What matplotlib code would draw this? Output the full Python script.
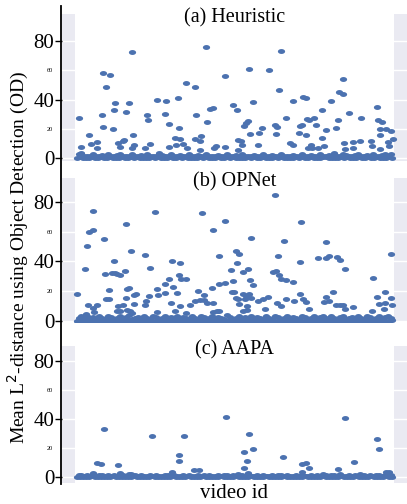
import numpy as np
import matplotlib
matplotlib.use("Agg")
import matplotlib.pyplot as plt
from matplotlib.path import Path
from matplotlib.lines import Line2D

plt.rcParams['font.family'] = ['Liberation Serif', 'DejaVu Serif']

BLUE = "#4C72B0"
titles = ["(a) Heuristic", "(b) OPNet", "(c) AAPA"]
ylabel = "Mean L$^2$-distance using Object Detection (OD)"
xlabel = "video id"
major_ticks = [0, 40, 80]
minor_ticks = [20, 60]

# ---------------- data: (video id, distance) ----------------
heur_x = [2.3, 3.7, 12, 14, 20.3, 19.7, 25.3, 25.7, 26.3, 28.7, 32.7, 36.7, 38.3, 36.3, 41.3, 43, 45.7, 47,
          48.7, 52.3, 54.7, 56.3, 57, 54.7, 70.3, 71, 73.3, 68, 79.7, 88.3, 89, 92, 92, 98, 98.7, 102, 101.3,
          103, 105.7, 108.7, 110.3, 118, 119.3, 117.7, 123, 124.3, 123, 129, 129.7, 132.7, 135.7, 138.7, 137,
          148.3, 148.3, 155.7, 160.3, 160.7, 163.7, 165, 161.3, 167.3, 168.7, 170.7, 172, 173, 176.3, 180.7,
          182.3, 185.3, 191.7, 197.7, 200.3, 198.7, 201.7, 203.7, 209.3, 213, 216.3, 216.3, 221.7, 223, 225.3,
          226, 229.3, 229, 230, 232.3, 233.7, 231.3, 235.3, 237.3, 239.3, 240.7, 245, 245.3, 247.3, 249.3, 254,
          258.7, 261, 261.7, 265.7, 265.7, 266.7, 268, 272, 276, 276.3, 283, 283.7, 293.7, 295.3, 300.3, 301.3,
          303, 302.7, 305, 308.7, 302.7, 314, 311.3, 312.3, 316.3]
heur_y = [27.6, 7.5, 15.7, 9.8, 11.2, 6.6, 29.2, 21.2, 58.3, 48.5, 56.5, 33, 37.8, 19.6, 10, 7.7, 11.8, 12.2,
          31.7, 37.6, 72.7, 15.7, 9.1, 6.6, 29.2, 25.8, 9.8, 6.6, 39.7, 30.3, 39, 23.5, 7.7, 13.5, 8.7, 20.5, 41,
          13.2, 9.4, 51, 6.6, 48.5, 29.6, 12.8, 11.4, 15, 5.7, 76.1, 24.4, 33.5, 34.2, 8.2, 6.6,
          56.3, 7.7, 36, 32.8, 12.5, 11.8, 8.7, 5.7, 22.1, 24.2, 25.6, 60.6, 16.4, 38.3, 9.1,
          16.9, 20.7, 60.4, 22.6, 21.2, 16.4, 46.7, 73.4, 27.4, 10.1, 8.9, 38.8, 17.1, 22.1, 22.6,
          41.5, 41, 15.5, 26.5, 25.8, 9.1, 6.6, 6.6, 27.4, 22.8, 6.8, 13.7, 32.6, 8.4, 19.1, 39.2,
          20.5, 25.8, 45.1, 43.8, 54, 10.5, 6.4, 30.8, 11.2, 7, 11.8, 27.1, 11.8, 8.2, 34.9, 25.8,
          15.7, 19.6, 24.4, 19.8, 6.4, 18.7, 11.2, 8.2, 13]
# dense strip near zero: lower row and upper row
heur_band_lo = [0, 0.5, 0, 0.3, 0, 0.5, 0.2, 0, 0.4, 0, 0.3, 0.5, 0, 0.2, 0, 0.5, 0.3, 0, 0.4, 0,
                0.5, 0, 0.3, 0, 0.2, 0.5, 0, 0.4, 0, 0.3, 0, 0.5, 0.2, 0, 0.4, 0, 0.5, 0, 0.3, 0,
                0.2, 0.5, 0, 0.4, 0, 0.3, 0, 0.5, 0.2, 0, 0.4, 0, 0.5, 0, 0.3, 0.2, 0, 0.5, 0, 0.4,
                0, 0.3, 0.5, 0, 0.2, 0, 0.4, 0, 0.5, 0.3, 0, 0.2, 0, 0.5, 0, 0.4, 0.3, 0, 0.5, 0,
                0.2, 0, 0.4, 0.5, 0, 0.3, 0, 0.2, 0.5, 0, 0.4, 0, 0.3, 0, 0.5, 0.2, 0, 0.4, 0, 0.3,
                0.5, 0, 0.2, 0, 0.4, 0]
heur_band_hi = [2.5, 3.5, 1.5, 1.2, 1.5, 2.5, 1.2, 1.5, 2, 1.2, 2.5, 1.5, 1.2, 2, 3, 1.5, 1.2, 1.5, 2.5, 1.2,
                1.5, 2, 1.2, 2.5, 1.5, 1.2, 1.5, 3.5, 2, 1.2, 1.5, 2.5, 1.2, 1.5, 2, 1.2, 1.5, 3, 1.5, 1.2,
                2, 1.5, 1.2, 2.5, 1.5, 1.2, 1.5, 2, 1.2, 1.5, 2.5, 1.2, 1.5, 2, 1.2, 2.5, 1.5, 1.2, 1.5, 2,
                1.2, 1.5, 3, 1.5, 1.2, 2, 1.5, 1.2, 2.5, 1.5, 1.2, 1.5, 2, 1.2, 1.5, 2.5, 1.5, 1.2, 2, 1.5,
                1.2, 2.5, 1.5, 1.2, 2, 1.5, 3.5, 1.2, 1.5, 2.5, 2, 1.2, 1.5, 2, 2.5, 1.2, 1.5, 2, 1.2, 3,
                1.5, 1.2, 2, 2.5, 1.5, 2.5]

opnet_x = [0.3, 8.3, 10, 11.7, 16.3, 15.7, 9, 11.3, 15.7, 17.3, 19.7, 26.7, 28, 29, 32.3, 32.3, 35.3, 36.7,
           38, 40, 43.3, 47.7, 49.3, 49.7, 51.7, 49, 53.7, 40.7, 46.3, 39.7, 43, 50, 53, 55, 59, 57, 57.3,
           68, 73, 72.3, 69, 67.7, 78, 80.3, 80.7, 80.3, 88.3, 88, 92, 94.7, 94, 96, 100.3, 102.7, 101.7,
           104, 108.7, 103, 98, 109.3, 113.3, 117.7, 121, 122.7, 124.7, 127.3, 127.3, 129.7, 135.7, 135,
           135.7, 142, 142, 148, 148.3, 142, 136, 139.7, 154, 156.3, 155, 157.3, 159.3, 159.7, 162.3, 158.7,
           160.7, 162.3, 165.7, 166.3, 168.3, 171, 173.3, 173.7, 176.3, 172, 174, 169.3, 170, 166.3, 169.7,
           181.3, 186.3, 191, 188, 195.7, 198.7, 198.3, 200.7, 202, 203.7, 200.3, 204, 207.3, 209, 209,
           216.3, 216.7, 222.7, 223.3, 224.3, 226.3, 228.7, 232.3, 241.3, 248.7, 249.3, 252.3, 249.3, 252,
           247.3, 256, 260.3, 263, 268, 259, 263, 265.7, 268.3, 276, 295.7, 300.3, 308.3, 314.3, 313.7,
           314.7, 308, 294.7, 302.3, 307]
opnet_y = [18.4, 35, 50.2, 59.8, 61, 74.2, 4.5, 10.8, 8.5, 5.8, 10.8, 54.9, 31.6, 14.8, 14.8, 21, 32.5, 40.5,
           32, 31.4, 30.7, 33.8, 65, 21.5, 22, 15.7, 47, 10, 11, 7, 7, 7.5, 7, 5.5, 17.9, 17.5, 11.4,
           44.6, 35.8, 16.8, 13.7, 10.5, 73.3, 21.3, 17.5, 5.8, 24.6, 18.8, 28.2, 40.3, 12.1, 23, 18.8, 38.7,
           30.9, 28, 28, 9.9, 6.5, 5.6, 10.8, 13.7, 20.4, 14, 72.6, 17.2, 14.3, 11.8, 61.4, 22.4, 11.8,
           43.7, 25, 25.3, 67.4, 6.5, 6, 6.8, 34, 27.1, 19.5, 19.5, 47.3, 39.2, 45, 15.2, 14.6, 11.7,
           33.2, 18.4, 14.8, 34.7, 27.6, 55.5, 24, 18, 15.5, 16.5, 10, 7, 7.5, 13.6, 14.5, 16.4, 8.1, 32.9,
           33.8, 84.9, 43.9, 30.9, 28.4, 12.1, 9.9, 53.8, 27.2, 14.7, 26, 13.7, 18.1, 39.9, 66.3, 14.9, 12.9,
           8.1, 42.6, 42.4, 53.1, 43.5, 16.4, 13.7, 12.5, 19.5, 42.8, 41.3, 35.2, 11, 11, 10.5, 8.1, 9.2,
           28.7, 16.3, 19.6, 45, 15.2, 10.5, 11.8, 6.8, 11.2, 8.1]
opnet_band_lo = [0.3, 0, 0.5, 0, 0.2, 0.4, 0, 0.5, 0, 0.3, 0, 0.4, 0.2, 0, 0.5, 0, 0.3, 0.4, 0, 0.2,
                 0.5, 0, 0.3, 0, 0.4, 0.2, 0, 0.5, 0, 0.3, 0.4, 0, 0.2, 0, 0.5, 0.3, 0, 0.4, 0, 0.2,
                 0, 0.5, 0.3, 0, 0.4, 0, 0.2, 0.5, 0, 0.3, 0, 0.4, 0.2, 0, 0.5, 0, 0.3, 0, 0.4, 0.2,
                 0, 0.5, 0, 0.3, 0.4, 0, 0.2, 0, 0.5, 0.3, 0, 0.4, 0, 0.2, 0.5, 0, 0.3, 0, 0.4, 0,
                 0.2, 0.5, 0, 0.3, 0, 0.4, 0.2, 0, 0.5, 0, 0.3, 0.4, 0, 0.2, 0, 0.5, 0.3, 0, 0.4, 0,
                 0.2, 0, 0.5, 0.3, 0, 0.4]
opnet_band_hi = [2, 3, 1.5, 3.5, 2, 2.5, 1.5, 3, 2, 1.5, 3.5, 2.5, 1.5, 2, 3, 1.5, 2.5, 4, 1.5, 2,
                 2.5, 1.5, 3, 2, 1.5, 3.5, 2.5, 1.5, 2, 3, 1.5, 2.5, 2, 3.5, 1.5, 2.5, 2, 1.5, 3, 2,
                 1.5, 3.5, 2.5, 1.5, 2, 3, 1.5, 2.5, 2, 1.5, 4, 2.5, 1.5, 2, 3, 1.5, 2.5, 2, 3.5, 1.5,
                 2.5, 2, 1.5, 3, 2, 1.5, 3.5, 2.5, 1.5, 2, 3, 1.5, 2.5, 2, 1.5, 3.5, 2.5, 1.5, 2, 3,
                 1.5, 2.5, 3.5, 2, 1.5, 3, 2, 1.5, 2.5, 3.5, 1.5, 2, 2.5, 1.5, 3, 2, 1.5, 3.5, 2.5, 1.5,
                 2, 3, 1.5, 2.5, 3.5, 2]

aapa_x = [26.7, 20.3, 24, 41, 15.7, 43, 51.7, 54, 75, 102, 102.3, 95.3, 107, 117, 122.3, 149, 161.3, 167.3,
          176.3, 170.3, 167.3, 171.3, 172, 206.3, 224.7, 228.7, 232.3, 225.3, 246.3, 260.7, 268, 277.3,
          300, 302.3, 309, 312.3, 263, 283]
aapa_y = [33.3, 9.9, 9.3, 8.5, 2.5, 2.5, 2.2, 2.2, 28, 15.2, 11, 3.2, 28, 4.8, 4.8, 41.4, 1.8, 17.2,
          19.1, 11, 6.4, 2.8, 30, 14, 9.2, 9.9, 6.2, 3.2, 2.2, 5.5, 40.7, 10.3,
          26.4, 19.1, 3.5, 3.7, 2, 2]
aapa_band_lo = [0, 0.3, 0, 0.2, 0, 0.4, 0, 0.2, 0.3, 0, 0.2, 0, 0.4, 0, 0.3, 0, 0.2, 0, 0.3, 0.4,
                0, 0.2, 0, 0.3, 0, 0.4, 0.2, 0, 0.3, 0, 0.2, 0, 0.4, 0, 0.3, 0.2, 0, 0.4, 0, 0.3,
                0, 0.2, 0.4, 0, 0.3, 0, 0.2, 0, 0.4, 0.3, 0, 0.2, 0, 0.4, 0, 0.3, 0.2, 0, 0.4, 0,
                0.3, 0, 0.2, 0.4, 0, 0.3, 0, 0.2, 0, 0.4, 0.3, 0, 0.2, 0, 0.3, 0, 0.4, 0.2, 0, 0.3,
                0, 0.2, 0.4, 0, 0.3, 0, 0.2, 0, 0.4, 0.3, 0, 0.2, 0, 0.4, 0, 0.3, 0.2, 0, 0.4, 0,
                0.3, 0, 0.2, 0.4, 0, 0.3]
aapa_band_hi = [1.5, 1.2, 1, 1.2, 1, 1.2, 1, 1.5, 1.2, 1, 1.2, 1, 1.2, 1, 1.2, 1.5, 1, 1.2, 1, 1.2,
                1, 1.2, 1, 1, 1.2, 1, 1.2, 1, 1, 1.5, 1.2, 1, 1.2, 1, 1, 1.2, 1, 1.2, 1, 1,
                1.2, 1, 1.2, 1, 1.2, 1, 1, 1.2, 1, 1.5, 1.2, 1, 1.2, 1, 1, 1.2, 1, 1.2, 1, 1,
                1.2, 1, 1.2, 1, 1, 1.2, 1, 1.5, 1.2, 1, 1.2, 1, 1, 1.2, 1, 1.2, 1, 1, 1.2, 1,
                1.2, 1, 1, 1.2, 1, 1.2, 1.5, 1, 1.2, 1, 1, 1.2, 1, 1.2, 1, 1, 1.2, 1, 1.2, 1,
                1.5, 1.2, 1, 1.2, 1.5, 1.2]

panels = [(heur_x, heur_y, heur_band_lo, heur_band_hi),
          (opnet_x, opnet_y, opnet_band_lo, opnet_band_hi),
          (aapa_x, aapa_y, aapa_band_lo, aapa_band_hi)]

# ---------------- layout ----------------
W, H = 407, 504
fig = plt.figure(figsize=(W / 100, H / 100), dpi=100)
boxes = [(14, 160.7, (-1.85, 98.5)), (178, 322, (-0.7, 96.1)), (346, 483, (-4.1, 90.3))]

theta = np.linspace(0, 2 * np.pi, 40)
ell = Path(np.column_stack([np.cos(theta), 0.68 * np.sin(theta)]), closed=True)

for (xs, ys, blo, bhi), (top, bot, ylim), title in zip(panels, boxes, titles):
    ax = fig.add_axes([62 / W, 1 - bot / H, (W - 62) / W, (bot - top) / H])
    ax.set_facecolor("#EAEAF2")
    for s in ax.spines.values():
        s.set_visible(False)
    ax.set_xlim(-15, 330)
    ax.set_ylim(*ylim)
    ax.set_yticks(major_ticks)
    ax.set_yticks(minor_ticks, minor=True)
    ax.set_yticklabels([str(t) for t in minor_ticks], minor=True)
    ax.set_xticks([])
    ax.grid(True, axis='y', which='both', color='white', linewidth=1.0, zorder=0)
    ax.set_axisbelow(True)
    ax.tick_params(axis='y', which='major', length=5, width=1.0, color='black', pad=0.5,
                   labelsize=15, direction='out')
    ax.tick_params(axis='y', which='minor', length=0, pad=6.5, labelsize=4.5)
    ax.axvspan(-2, 317, color='white', zorder=1, lw=0)
    kw = dict(linestyle='none', marker=ell, markersize=5.2, color=BLUE, mec='none', zorder=3)
    ax.plot(np.linspace(0, 315, len(blo)), blo, **kw)
    ax.plot(np.linspace(1.5, 314, len(bhi)), bhi, **kw)
    ax.plot(xs, ys, **kw)
    ax.text(0.5, 1 - 3.5 / (bot - top), title, transform=ax.transAxes, ha='center', va='center',
            fontsize=14.5, zorder=5)

fig.add_artist(Line2D([60.5 / W, 60.5 / W], [1 - 6 / H, 1 - 484 / H], color='black', linewidth=1.3))

fig.text(18 / W, 1 - 258 / H, ylabel, rotation=90, ha='center', va='center', fontsize=14)
fig.text(234 / W, 1 - 493 / H, xlabel, ha='center', va='center', fontsize=15)

fig.savefig("out.png", dpi=100)
